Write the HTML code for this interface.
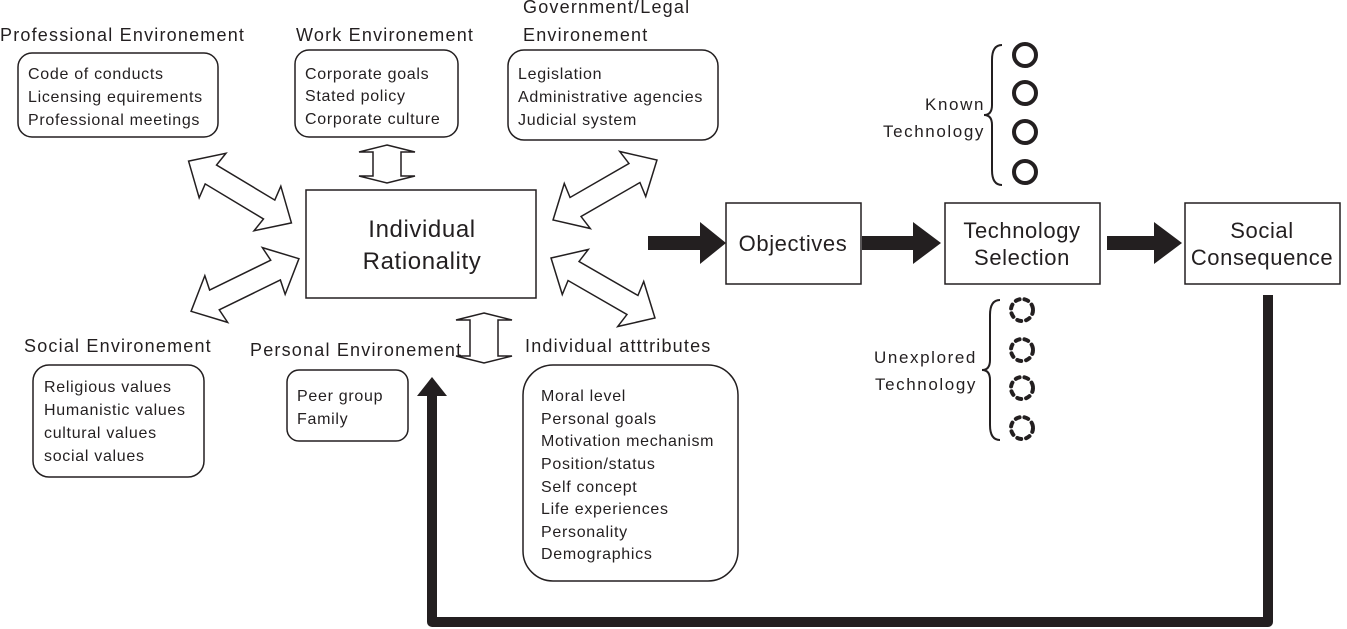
<!DOCTYPE html>
<html><head><style>body{margin:0;background:#fff}svg{display:block}text{font-family:"Liberation Sans",sans-serif;fill:#231f20}</style></head><body>
<svg width="1347" height="629" viewBox="0 0 1347 629" xmlns="http://www.w3.org/2000/svg">
<defs>
<polygon id="da" points="-60,0 -32,-26 -34,-11 34,-11 32,-26 60,0 32,26 34,11 -34,11 -32,26" fill="#fff" stroke="#231f20" stroke-width="1.5" stroke-linejoin="miter"/>
</defs>
<g fill="none" stroke="#231f20" stroke-width="1.5">
<rect x="18" y="53" width="200" height="84" rx="14"/>
<rect x="295" y="50" width="163" height="87" rx="14"/>
<rect x="508" y="50" width="210" height="90" rx="16"/>
<rect x="33" y="365" width="171" height="112" rx="16"/>
<rect x="287" y="370" width="121" height="71" rx="12"/>
<rect x="523" y="365" width="215" height="216" rx="30"/>
<rect x="306" y="190" width="230" height="108"/>
<rect x="726" y="203" width="135" height="81"/>
<rect x="945" y="203" width="155" height="81"/>
<rect x="1185" y="203" width="155" height="81"/>
</g>
<g font-size="18" letter-spacing="1.2">
<text x="0" y="41">Professional Environement</text>
<text x="296" y="41">Work Environement</text>
<text x="523" y="13">Government/Legal</text>
<text x="523" y="41">Environement</text>
<text x="24" y="352">Social Environement</text>
<text x="250" y="356">Personal Environement</text>
<text x="525" y="352">Individual atttributes</text>
</g>
<g font-size="16" letter-spacing="0.7">
<text x="28" y="79">Code of conducts</text><text x="28" y="102">Licensing equirements</text><text x="28" y="125">Professional meetings</text>
<text x="305" y="79">Corporate goals</text><text x="305" y="101">Stated policy</text><text x="305" y="124">Corporate culture</text>
<text x="518" y="79">Legislation</text><text x="518" y="102">Administrative agencies</text><text x="518" y="125">Judicial system</text>
<text x="44" y="392">Religious values</text><text x="44" y="415">Humanistic values</text><text x="44" y="438">cultural values</text><text x="44" y="461">social values</text>
<text x="297" y="401">Peer group</text><text x="297" y="424">Family</text>
<text x="541" y="401">Moral level</text><text x="541" y="424">Personal goals</text><text x="541" y="446">Motivation mechanism</text><text x="541" y="469">Position/status</text><text x="541" y="492">Self concept</text><text x="541" y="514">Life experiences</text><text x="541" y="537">Personality</text><text x="541" y="559">Demographics</text>
</g>
<g font-size="17" letter-spacing="1.6" text-anchor="end">
<text x="985" y="110">Known</text><text x="985" y="137">Technology</text>
<text x="977" y="363">Unexplored</text><text x="977" y="390">Technology</text>
</g>
<g font-size="24" text-anchor="middle" letter-spacing="0.6">
<text x="422" y="237">Individual</text><text x="422" y="269">Rationality</text>
<text x="793" y="251" font-size="22">Objectives</text>
<text x="1022" y="238" font-size="22">Technology</text><text x="1022" y="265" font-size="22">Selection</text>
<text x="1262" y="238" font-size="22">Social</text><text x="1262" y="265" font-size="22">Consequence</text>
</g>
<use href="#da" transform="translate(240,192) rotate(31)"/>
<use href="#da" transform="translate(245,285) rotate(-26)"/>
<use href="#da" transform="translate(605,190) rotate(-30)"/>
<use href="#da" transform="translate(603,288) rotate(30)"/>
<polygon points="387,145 415,152 401,152 401,176 415,176 387,183 359,176 373,176 373,152 359,152" fill="#fff" stroke="#231f20" stroke-width="1.5"/>
<polygon points="484,313 512,320 498,320 498,356 512,356 484,363 456,356 470,356 470,320 456,320" fill="#fff" stroke="#231f20" stroke-width="1.5"/>
<g fill="#231f20">
<polygon points="648,236 700,236 700,222 726,243 700,264 700,250 648,250"/>
<polygon points="862,236 913,236 913,222 941,243 913,264 913,250 862,250"/>
<polygon points="1107,236 1154,236 1154,222 1182,243 1154,264 1154,250 1107,250"/>
<polygon points="417,396 432,377 447,396"/>
</g>
<path d="M1268 295 V622 H432 V392" fill="none" stroke="#231f20" stroke-width="10" stroke-linejoin="round"/>
<g fill="none" stroke="#231f20" stroke-width="2">
<path d="M1002 45 Q992 45 992 60 V105 Q992 115 984 115 Q992 115 992 125 V170 Q992 185 1002 185"/>
<path d="M1000 300 Q990 300 990 315 V360 Q990 370 982 370 Q990 370 990 380 V425 Q990 440 1000 440"/>
</g>
<g fill="none" stroke="#231f20" stroke-width="4">
<circle cx="1025" cy="55" r="11"/><circle cx="1025" cy="93" r="11"/><circle cx="1025" cy="132" r="11"/><circle cx="1025" cy="172" r="11"/>
</g>
<g fill="none" stroke="#231f20" stroke-width="4" stroke-dasharray="4 5" stroke-linecap="round">
<circle cx="1022" cy="310" r="11"/><circle cx="1022" cy="350" r="11"/><circle cx="1022" cy="388" r="11"/><circle cx="1022" cy="428" r="11"/>
</g>
</svg>
</body></html>
